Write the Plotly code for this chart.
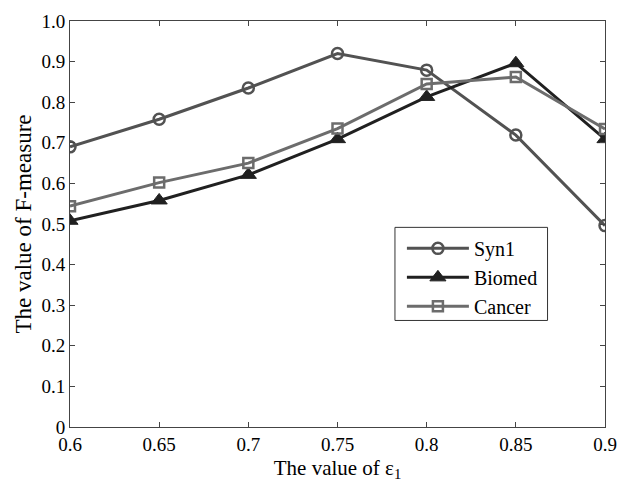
import plotly.graph_objects as go

x_vals = [0.6, 0.65, 0.7, 0.75, 0.8, 0.85, 0.9]
syn1 = [0.690, 0.758, 0.835, 0.920, 0.879, 0.719, 0.496]
biomed = [0.508, 0.558, 0.621, 0.709, 0.813, 0.896, 0.709]
cancer = [0.544, 0.602, 0.650, 0.735, 0.845, 0.862, 0.734]

x_ticks = [0.6, 0.65, 0.7, 0.75, 0.8, 0.85, 0.9]
x_ticklabels = ["0.6", "0.65", "0.7", "0.75", "0.8", "0.85", "0.9"]
y_ticks = [0, 0.1, 0.2, 0.3, 0.4, 0.5, 0.6, 0.7, 0.8, 0.9, 1.0]
y_ticklabels = ["0", "0.1", "0.2", "0.3", "0.4", "0.5", "0.6", "0.7", "0.8", "0.9", "1.0"]

FONT = "Liberation Serif, Times New Roman, serif"

fig = go.Figure()
fig.add_trace(go.Scatter(
    x=x_vals, y=syn1, name="Syn1", mode="lines+markers",
    line=dict(color="#525252", width=3),
    marker=dict(symbol="circle-open", size=11, color="#525252", line=dict(width=2.5, color="#525252")),
))
fig.add_trace(go.Scatter(
    x=x_vals, y=biomed, name="Biomed", mode="lines+markers",
    line=dict(color="#202020", width=3),
    marker=dict(symbol="triangle-up", size=14, color="#202020", line=dict(width=1, color="#202020")),
))
fig.add_trace(go.Scatter(
    x=x_vals, y=cancer, name="Cancer", mode="lines+markers",
    line=dict(color="#6c6c6c", width=3),
    marker=dict(symbol="square-open", size=10, color="#6c6c6c", line=dict(width=2.5, color="#6c6c6c")),
))

# legend frame
fig.add_shape(
    type="rect", xref="paper", yref="paper",
    x0=0.6074, x1=0.8926, y0=0.2624, y1=0.4917,
    line=dict(color="#333333", width=1), fillcolor="white", layer="above",
)

fig.update_layout(
    width=628, height=486,
    margin=dict(l=70, r=18, t=11, b=52),
    paper_bgcolor="white", plot_bgcolor="white",
    font=dict(family=FONT, size=19, color="black"),
    showlegend=True,
    legend=dict(
        x=0.6204, y=0.488, xanchor="left", yanchor="top",
        bgcolor="rgba(0,0,0,0)", borderwidth=0,
        font=dict(family=FONT, size=20, color="black"),
        itemwidth=62, tracegroupgap=0,
    ),
)
fig.update_xaxes(
    range=[0.6, 0.9], tickvals=x_ticks, ticktext=x_ticklabels,
    showgrid=False, zeroline=False,
    showline=True, linecolor="#444444", linewidth=1, mirror="ticks",
    ticks="inside", ticklen=5, tickcolor="#444444",
    tickfont=dict(family=FONT, size=19),
    title=dict(text="The value of ε<sub>1</sub>", font=dict(family=FONT, size=21), standoff=6),
)
fig.update_yaxes(
    range=[0, 1.0], tickvals=y_ticks, ticktext=y_ticklabels,
    showgrid=False, zeroline=False,
    showline=True, linecolor="#444444", linewidth=1, mirror="ticks",
    ticks="inside", ticklen=5, tickcolor="#444444",
    tickfont=dict(family=FONT, size=19),
    title=dict(text="The value of F-measure", font=dict(family=FONT, size=23), standoff=3),
)

fig.write_html("out.html", config={"displayModeBar": False},
               post_script="document.body.style.margin='0';")
